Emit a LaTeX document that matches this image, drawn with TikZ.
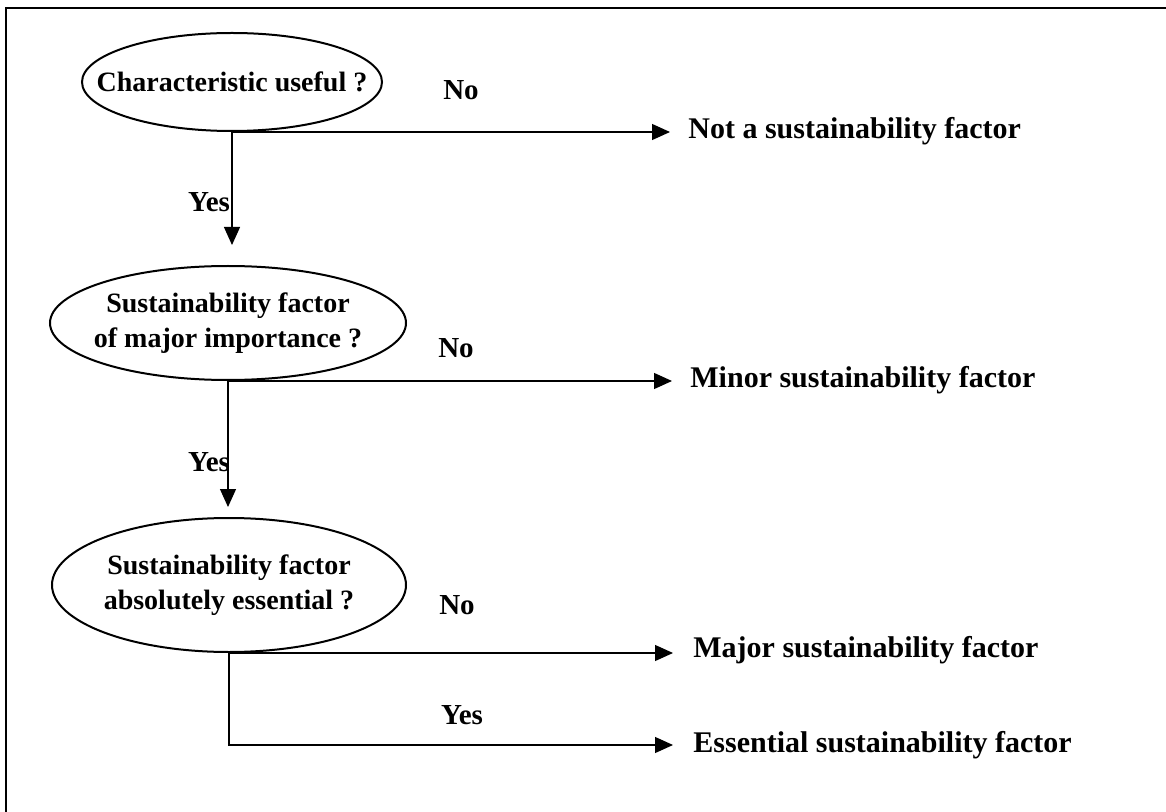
\documentclass[tikz,border=0pt]{standalone}
\usepackage{fontspec}
\setmainfont{Liberation Serif}
\usetikzlibrary{shapes.geometric,arrows.meta}
\tikzset{
  question/.style={ellipse,draw,line width=1pt,inner xsep=-20pt,inner ysep=0pt,align=center,font=\fontsize{14}{17.5}\selectfont\bfseries},
  outcome/.style={anchor=west,inner sep=0pt,font=\fontsize{15}{18}\selectfont\bfseries},
  answer/.style={inner sep=0pt,font=\fontsize{14.5}{17}\selectfont\bfseries},
  flow/.style={line width=0.6pt,-{Triangle[length=9pt,width=8pt]}}
}
\begin{document}
\begin{tikzpicture}[x=0.5pt,y=-0.5pt]
\useasboundingbox (0,0) rectangle (1166,812);
% frame
\draw[line width=1pt] (6,812) -- (6,8) -- (1166,8);
% questions
\node[question,minimum width=150pt,minimum height=49pt] (q1) at (232,82) {Characteristic useful ?};
\node[question,minimum width=178pt,minimum height=57pt] (q2) at (228,323) {Sustainability factor\\of major importance ?};
\node[question,minimum width=177pt,minimum height=67pt] (q3) at (229,585) {Sustainability factor\\absolutely essential ?};
% outcomes
\node[outcome] (o1) at (688,131) {Not a sustainability factor};
\node[outcome] (o2) at (690,380) {Minor sustainability factor};
\node[outcome] (o3) at (693,650) {Major sustainability factor};
\node[outcome] (o4) at (693,745) {Essential sustainability factor};
% answers
\node[answer] (n1) at (461,90) {No};
\node[answer] (y1) at (209,202) {Yes};
\node[answer] (n2) at (456,348) {No};
\node[answer] (y2) at (209,462) {Yes};
\node[answer] (n3) at (457,605) {No};
\node[answer] (y3) at (462,715) {Yes};
% connectors
\draw[flow,shorten >=9pt] (q1.south) -- (q1.south -| o1.west);
\draw[flow,shorten >=10pt] (q1.south) -- (q1.south |- q2.north);
\draw[flow,shorten >=9pt] (q2.south) -- (q2.south -| o2.west);
\draw[flow,shorten >=5pt] (q2.south) -- (q2.south |- q3.north);
\draw[flow,shorten >=10pt] (q3.south) -- (q3.south -| o3.west);
\draw[flow,shorten >=10pt] (q3.south) |- (o4.west);
\end{tikzpicture}
\end{document}
